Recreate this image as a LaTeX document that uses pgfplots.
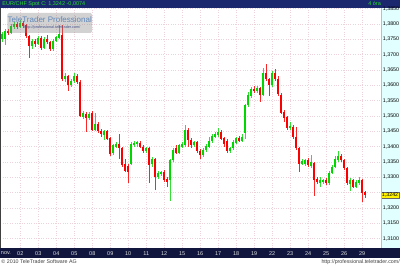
\documentclass[border=0pt]{standalone}
\usepackage{pgfplots}
\pgfplotsset{compat=1.18}
\usepackage{pgfplotstable}
\usepackage{fontspec}
\setmainfont{Liberation Sans}
\definecolor{topnavy}{RGB}{28,40,110}
\definecolor{botnavy}{RGB}{16,22,62}
\definecolor{cyanbg}{RGB}{226,255,255}
\definecolor{yline}{RGB}{215,195,90}
\definecolor{cgreen}{RGB}{0,215,0}
\definecolor{cred}{RGB}{250,0,0}
\definecolor{gridc}{RGB}{238,210,218}
\definecolor{ttgreen}{RGB}{40,225,40}
\definecolor{wmblue}{RGB}{95,135,185}

\pgfplotstableread{
x o h l c
0 1.3750 1.3775 1.3740 1.3768
1 1.3752 1.3782 1.3730 1.3778
2 1.3776 1.3785 1.3765 1.3770
3 1.3772 1.3800 1.3768 1.3795
4 1.3790 1.3808 1.3785 1.3800
5 1.3800 1.3805 1.3782 1.3790
6 1.3790 1.3812 1.3786 1.3803
7 1.3803 1.3810 1.3788 1.3793
8 1.3795 1.3800 1.3755 1.3760
9 1.3760 1.3765 1.3690 1.3728
10 1.3728 1.3750 1.3720 1.3745
11 1.3745 1.3752 1.3725 1.3735
12 1.3735 1.3760 1.3730 1.3755
13 1.3755 1.3760 1.3715 1.3722
14 1.3722 1.3758 1.3718 1.3750
15 1.3750 1.3765 1.3735 1.3740
16 1.3740 1.3745 1.3712 1.3718
17 1.3718 1.3750 1.3712 1.3745
18 1.3745 1.3762 1.3740 1.3758
19 1.3755 1.3797 1.3750 1.3768
20 1.3765 1.3797 1.3615 1.3622
21 1.3622 1.3640 1.3610 1.3630
22 1.3630 1.3635 1.3582 1.3600
23 1.3600 1.3620 1.3595 1.3615
24 1.3613 1.3640 1.3608 1.3630
25 1.3630 1.3636 1.3605 1.3612
26 1.3612 1.3616 1.3495 1.3500
27 1.3498 1.3515 1.3490 1.3510
28 1.3508 1.3512 1.3448 1.3495
29 1.3495 1.3512 1.3488 1.3505
30 1.3510 1.3515 1.3450 1.3455
31 1.3455 1.3510 1.3450 1.3475
32 1.3475 1.3480 1.3445 1.3450
33 1.3452 1.3458 1.3432 1.3440
34 1.3438 1.3455 1.3420 1.3450
35 1.3450 1.3455 1.3420 1.3425
36 1.3428 1.3432 1.3370 1.3375
37 1.3378 1.3410 1.3372 1.3405
38 1.3400 1.3415 1.3395 1.3410
39 1.3410 1.3440 1.3360 1.3395
40 1.3395 1.3400 1.3335 1.3340
41 1.3345 1.3360 1.3318 1.3322
42 1.3338 1.3342 1.3280 1.3318
43 1.3345 1.3415 1.3340 1.3410
44 1.3405 1.3418 1.3398 1.3412
45 1.3408 1.3420 1.3400 1.3415
46 1.3412 1.3418 1.3395 1.3400
47 1.3400 1.3405 1.3380 1.3385
48 1.3385 1.3400 1.3380 1.3395
49 1.3395 1.3398 1.3282 1.3340
50 1.3342 1.3365 1.3335 1.3360
51 1.3360 1.3362 1.3257 1.3300
52 1.3300 1.3320 1.3295 1.3315
53 1.3310 1.3322 1.3305 1.3318
54 1.3318 1.3325 1.3285 1.3290
55 1.3295 1.3300 1.3270 1.3285
56 1.3290 1.3360 1.3223 1.3355
57 1.3355 1.3395 1.3350 1.3390
58 1.3395 1.3405 1.3375 1.3380
59 1.3380 1.3410 1.3376 1.3405
60 1.3400 1.3415 1.3395 1.3410
61 1.3405 1.3470 1.3400 1.3455
62 1.3455 1.3460 1.3400 1.3420
63 1.3420 1.3428 1.3395 1.3405
64 1.3405 1.3420 1.3400 1.3415
65 1.3415 1.3420 1.3378 1.3385
66 1.3385 1.3392 1.3360 1.3372
67 1.3372 1.3395 1.3365 1.3390
68 1.3388 1.3410 1.3383 1.3402
69 1.3400 1.3430 1.3396 1.3420
70 1.3418 1.3440 1.3412 1.3435
71 1.3432 1.3448 1.3428 1.3440
72 1.3438 1.3460 1.3432 1.3448
73 1.3448 1.3455 1.3420 1.3425
74 1.3428 1.3432 1.3400 1.3410
75 1.3420 1.3425 1.3380 1.3385
76 1.3385 1.3400 1.3380 1.3395
77 1.3395 1.3420 1.3390 1.3415
78 1.3412 1.3432 1.3408 1.3428
79 1.3428 1.3435 1.3415 1.3420
80 1.3420 1.3440 1.3415 1.3432
81 1.3445 1.3540 1.3425 1.3535
82 1.3535 1.3578 1.3530 1.3570
83 1.3565 1.3595 1.3560 1.3588
84 1.3588 1.3598 1.3575 1.3582
85 1.3580 1.3598 1.3575 1.3592
86 1.3590 1.3595 1.3545 1.3568
87 1.3570 1.3655 1.3565 1.3640
88 1.3640 1.3670 1.3615 1.3620
89 1.3620 1.3625 1.3565 1.3600
90 1.3600 1.3645 1.3595 1.3640
91 1.3640 1.3652 1.3615 1.3620
92 1.3620 1.3630 1.3565 1.3570
93 1.3570 1.3575 1.3505 1.3510
94 1.3512 1.3518 1.3480 1.3495
95 1.3495 1.3500 1.3455 1.3460
96 1.3460 1.3480 1.3455 1.3468
97 1.3465 1.3470 1.3425 1.3430
98 1.3432 1.3465 1.3390 1.3395
99 1.3395 1.3400 1.3318 1.3345
100 1.3345 1.3360 1.3340 1.3352
101 1.3345 1.3360 1.3338 1.3355
102 1.3355 1.3362 1.3335 1.3340
103 1.3338 1.3372 1.3332 1.3350
104 1.3345 1.3350 1.3240 1.3292
105 1.3295 1.3300 1.3278 1.3285
106 1.3282 1.3300 1.3270 1.3292
107 1.3285 1.3296 1.3278 1.3290
108 1.3292 1.3298 1.3275 1.3280
109 1.3280 1.3320 1.3275 1.3315
110 1.3315 1.3340 1.3310 1.3335
111 1.3335 1.3368 1.3330 1.3360
112 1.3355 1.3387 1.3350 1.3368
113 1.3368 1.3375 1.3350 1.3355
114 1.3355 1.3360 1.3325 1.3330
115 1.3330 1.3335 1.3275 1.3280
116 1.3278 1.3298 1.3255 1.3290
117 1.3290 1.3295 1.3265 1.3270
118 1.3270 1.3292 1.3265 1.3285
119 1.3280 1.3300 1.3275 1.3290
120 1.3290 1.3295 1.3220 1.3250
121 1.3252 1.3255 1.3232 1.3242
}\candles

\pgfplotsset{
  candle/.style n args={2}{draw=none, no markers, forget plot,
    error bars/.cd, y dir=both, y explicit, error mark=none,
    error bar style={draw=#1, line width=#2}, /pgfplots/.cd},
}

\begin{document}
\begin{tikzpicture}[x=1pt,y=1pt]
\fill[white] (0,0) rectangle (400,266);
\fill[topnavy] (0,258) rectangle (400,266);
\fill[botnavy] (0,8) rectangle (400,18);
\fill[cyanbg] (381,18) rectangle (400,258);
\begin{axis}[
  at={(0pt,18pt)}, anchor=south west,
  scale only axis, width=381pt, height=240pt,
  xmin=-0.67, xmax=126.3, ymin=1.3070, ymax=1.3852,
  axis line style={draw=none},
  major tick length=0pt,
  clip mode=individual,
  xtick={6,12,...,120},
  xticklabels={02,03,04,05,08,09,10,11,12,15,16,17,18,19,22,23,24,25,26,29},
  xticklabel style={anchor=center, yshift=-5.5pt, text=white!88!black, font=\fontsize{5.5}{6}\selectfont},
  ytick={1.310,1.315,1.320,1.330,1.335,1.340,1.345,1.350,1.355,1.360,1.365,1.370,1.375,1.380,1.385},
  extra y ticks={1.325}, extra y tick labels={},
  yticklabel pos=right,
  yticklabel style={anchor=east, inner sep=0pt, xshift=18.3pt, font=\fontsize{5.3}{6}\selectfont,
    /pgf/number format/.cd, fixed, fixed zerofill, precision=4, use comma, 1000 sep={}, assume math mode=true},
  grid=major,
  grid style={gridc, dotted, line width=0.6pt},
]
% wicks
\addplot[x filter/.expression={\thisrow{c}>=\thisrow{o} ? x : nan},
  candle={cgreen!80!white}{0.7pt}]
  table[x=x, y expr={(\thisrow{h}+\thisrow{l})/2}, y error expr={(\thisrow{h}-\thisrow{l})/2}] {\candles};
\addplot[x filter/.expression={\thisrow{c}<\thisrow{o} ? x : nan},
  candle={cred!85!white}{0.7pt}]
  table[x=x, y expr={(\thisrow{h}+\thisrow{l})/2}, y error expr={(\thisrow{h}-\thisrow{l})/2}] {\candles};
% bodies
\addplot[x filter/.expression={\thisrow{c}>=\thisrow{o} ? x : nan},
  candle={cgreen}{2.1pt}]
  table[x=x, y expr={(\thisrow{o}+\thisrow{c})/2}, y error expr={max(abs(\thisrow{c}-\thisrow{o})/2,0.0002)}] {\candles};
\addplot[x filter/.expression={\thisrow{c}<\thisrow{o} ? x : nan},
  candle={cred}{2.1pt}]
  table[x=x, y expr={(\thisrow{o}+\thisrow{c})/2}, y error expr={max(abs(\thisrow{c}-\thisrow{o})/2,0.0002)}] {\candles};
\node[anchor=west, fill=yellow, draw=black!60, line width=0.3pt, inner sep=0.8pt, font=\fontsize{5.3}{6}\selectfont, text=black]
  at (axis cs:126.3,1.3242) {1,3242};
\end{axis}
\draw[yline, line width=0.8pt] (381,18) -- (381,258);
\draw[black!75, line width=0.6pt] (0.3,18) -- (0.3,258);
\node[anchor=west, inner sep=0pt, text=white!88!black, font=\fontsize{5.5}{6}\selectfont] at (0.5,13) {nov.};
\node[anchor=west, inner sep=0pt, text=ttgreen, font=\fontsize{5.5}{6}\selectfont] at (2,262.3) {EUR/CHF Spot C: 1,3242 -0,0074};
\node[anchor=east, inner sep=0pt, text=ttgreen, font=\fontsize{5.5}{6}\selectfont] at (381,262.3) {4 óra};
\fill[gray, opacity=0.35, rounded corners=1.5pt] (7,233) rectangle (92,253);
\node[inner sep=0pt, text=wmblue, font=\fontsize{8}{9}\selectfont] at (49.5,246.5) {TeleTrader Professional};
\node[inner sep=0pt, text=topnavy!80!white, font=\fontsize{3.8}{4}\selectfont] at (52,238.5) {http://professional.teletrader.com/};
\node[anchor=west, inner sep=0pt, text=black!75, font=\fontsize{5.3}{6}\selectfont] at (1,3.8) {© 2010 TeleTrader Software AG};
\node[anchor=east, inner sep=0pt, text=black!75, font=\fontsize{5.3}{6}\selectfont] at (400,3.8) {http://professional.teletrader.com/};
\end{tikzpicture}
\end{document}
